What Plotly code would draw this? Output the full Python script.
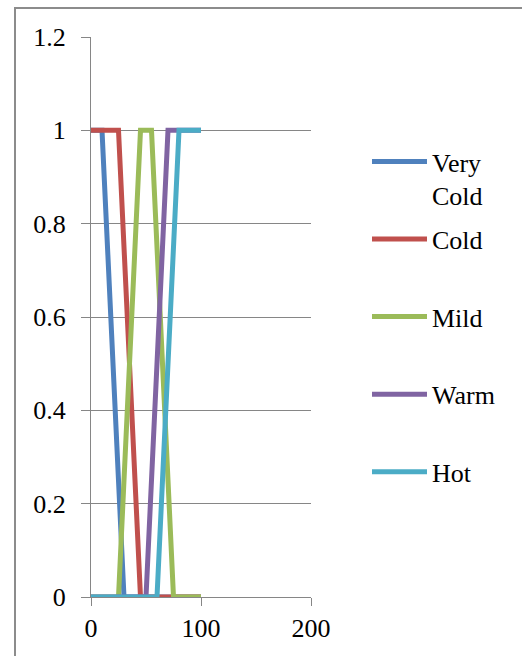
import plotly.graph_objects as go

series_names = ["Very<br>Cold", "Cold<br>\u00a0", "Mild<br>\u00a0", "Warm<br>\u00a0", "Hot<br>\u00a0"]
very_cold_x = [0, 10, 30, 100]
very_cold_y = [1, 1, 0, 0]
cold_x = [0, 25, 45, 100]
cold_y = [1, 1, 0, 0]
mild_x = [0, 25, 45, 55, 75, 100]
mild_y = [0, 0, 1, 1, 0, 0]
warm_x = [0, 50, 70, 100]
warm_y = [0, 0, 1, 1]
hot_x = [0, 60, 80, 100]
hot_y = [0, 0, 1, 1]
colors = ["#4F81BD", "#C0504D", "#9BBB59", "#8064A2", "#4BACC6"]
y_ticks = [0, 0.2, 0.4, 0.6, 0.8, 1, 1.2]
x_ticks = [0, 100, 200]

xs = [very_cold_x, cold_x, mild_x, warm_x, hot_x]
ys = [very_cold_y, cold_y, mild_y, warm_y, hot_y]

FONT = "Liberation Serif"
fig = go.Figure()
for i, (n, x, y, c) in enumerate(zip(series_names, xs, ys, colors)):
    fig.add_trace(go.Scatter(x=x, y=y, mode="lines", name=n, legendgroup=f"g{i}",
                             line=dict(color=c, width=5)))

W, H = 522, 656
L, R, T, B = 91, 311, 37, 597
pw, ph = R - L, B - T

fig.update_layout(
    width=W, height=H,
    margin=dict(l=L, r=W - R, t=T, b=H - B, pad=0),
    paper_bgcolor="white", plot_bgcolor="white",
    font=dict(family=FONT, size=26, color="black"),
    showlegend=True,
    legend=dict(x=(367 - L) / pw, xanchor="left", y=1 - (138 - T) / ph, yanchor="top",
                font=dict(family=FONT, size=26, color="black"),
                valign="top", tracegroupgap=7, itemwidth=55,
                bgcolor="rgba(0,0,0,0)"),
    xaxis=dict(range=[0, 200], tickvals=x_ticks, showgrid=False, zeroline=False,
               showline=True, linecolor="#868686", linewidth=1,
               ticks="outside", ticklen=8, tickcolor="#868686", tickwidth=1,
               tickfont=dict(family=FONT, size=26)),
    yaxis=dict(range=[0, 1.2], tickvals=y_ticks, showgrid=True, gridcolor="#868686", gridwidth=1,
               zeroline=False, showline=True, linecolor="#868686", linewidth=1,
               ticks="outside", ticklen=9, tickcolor="#868686", tickwidth=1,
               ticklabelstandoff=10,
               tickfont=dict(family=FONT, size=26)),
    shapes=[dict(type="rect", xref="paper", yref="paper",
                 x0=(15 - L) / pw, x1=(540 - L) / pw,
                 y0=-(680 - B) / ph, y1=1 + (T - 8) / ph,
                 line=dict(color="#8C8C8C", width=2), layer="below")],
)
fig.write_html("out.html")
